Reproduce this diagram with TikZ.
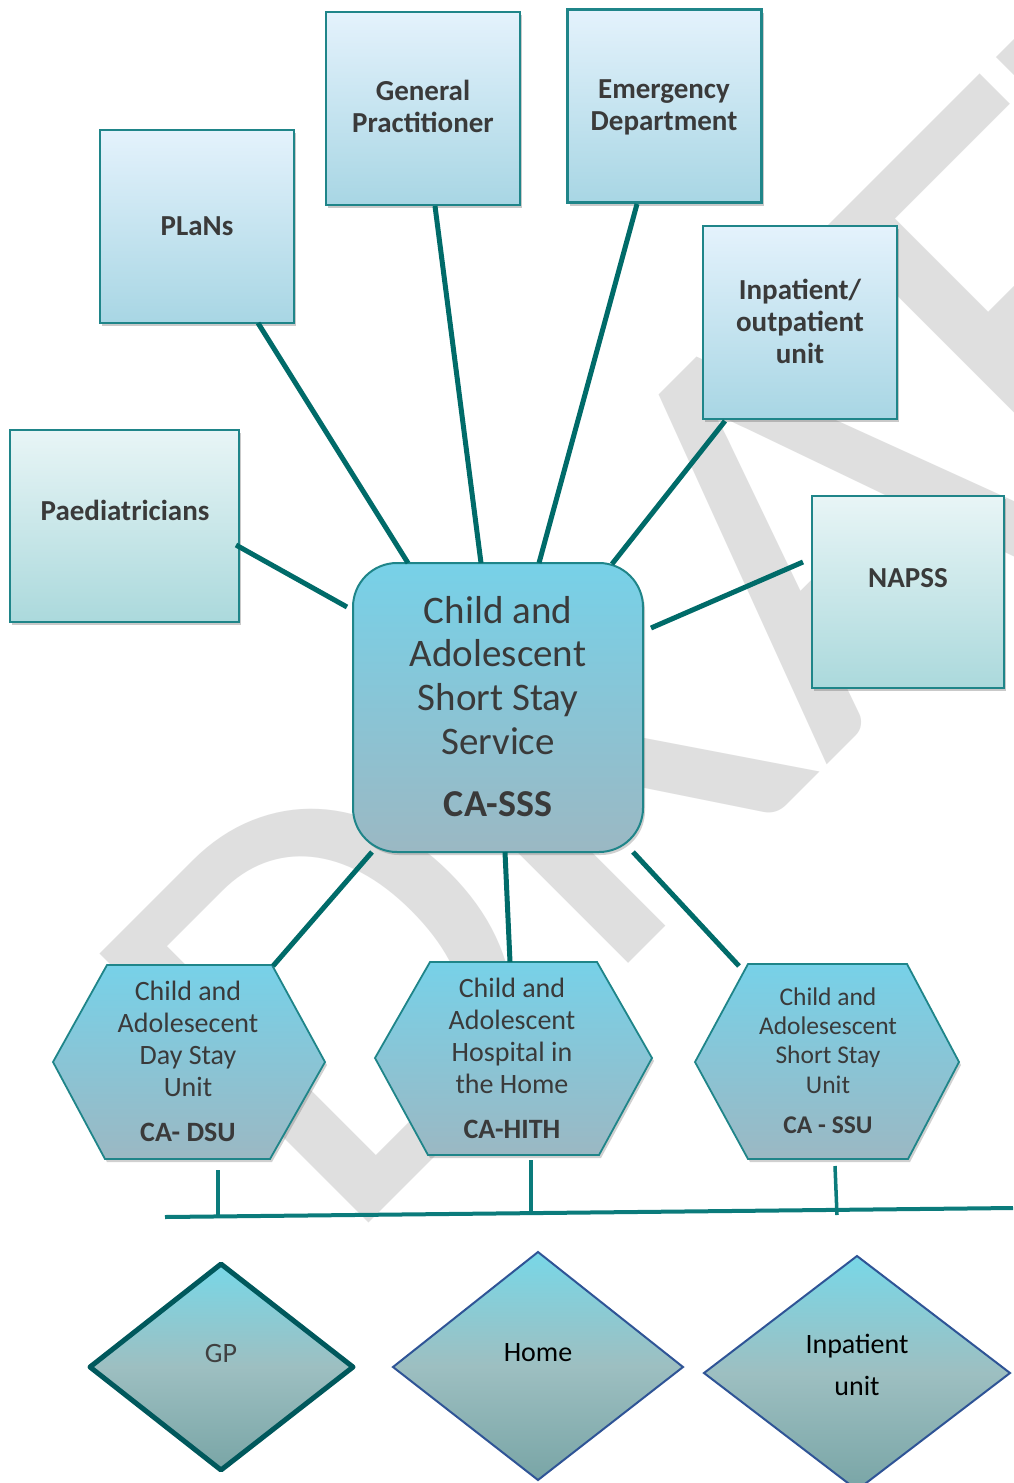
\documentclass[tikz,border=0pt]{standalone}
\usepackage{fontspec}
\setmainfont{Carlito}
\usetikzlibrary{shadows}
\definecolor{txt}{HTML}{3A3A3A}
\definecolor{edge}{HTML}{006B69}
\definecolor{busc}{HTML}{0B7B7B}
\definecolor{boxline}{HTML}{1F8589}
\definecolor{btop}{HTML}{E4F2FC}
\definecolor{bbot}{HTML}{A8D6E4}
\definecolor{gtop}{HTML}{E8F5F6}
\definecolor{gbot}{HTML}{ABD9DC}
\definecolor{ctop}{HTML}{77D1E8}
\definecolor{cbot}{HTML}{9BB8C3}
\definecolor{dtop}{HTML}{78D7E7}
\definecolor{dmid}{HTML}{9DBFC1}
\definecolor{dbot}{HTML}{79A5A6}
\definecolor{wm}{HTML}{DFDFDF}
\definecolor{gpline}{HTML}{00585C}
\definecolor{blueline}{HTML}{2F5496}
\newcommand\stk[1]{\vtop{\halign{\hfil##\hfil\cr#1\crcr}}}
\begin{document}
\begin{tikzpicture}[x=1pt,y=-1pt,
  sq/.style={draw=boxline, line width=2.2pt, minimum width=194pt, minimum height=193pt, inner sep=0pt,
    drop shadow={shadow xshift=2pt, shadow yshift=-3pt, opacity=0.35, fill=black!60}},
  bluesq/.style={sq, top color=btop, bottom color=bbot},
  greensq/.style={sq, top color=gtop, bottom color=gbot},
  lbl/.style={anchor=base, inner sep=0pt, text=txt, font=\fontsize{29}{32}\selectfont\bfseries},
  hexlbl/.style={anchor=base, inner sep=0pt, text=txt, font=\fontsize{28}{32.3}\selectfont},
  hexcode/.style={anchor=base, inner sep=0pt, text=txt, font=\fontsize{28}{32}\selectfont\bfseries},
  hexshape/.style={draw=boxline, line width=1.8pt, top color=ctop, bottom color=cbot,
    drop shadow={shadow xshift=2pt, shadow yshift=-3pt, opacity=0.3, fill=black!60}},
  dia/.style={top color=dtop, bottom color=dbot, middle color=dmid},
  link/.style={draw=edge, line width=5pt},
  busline/.style={draw=busc, line width=4pt},
  wmark/.style={text=wm, inner sep=0pt, font=\fontsize{593}{593}\selectfont}
]
\useasboundingbox (0,0) rectangle (1013,1483);
\fill[white] (0,0) rectangle (1013,1483);

% watermark
\node[wmark, rotate=45, anchor=base west] (draft) at (340,1252) {DRAFT};

% top boxes
\node[bluesq] (plans) at (197,226.5) {};
\node[bluesq] (gp) at (423,108.5) {};
\node[bluesq] (ed) at (664.5,106) {};
\node[bluesq] (inout) at (800,322.5) {};
\node[greensq, minimum width=229pt, minimum height=192pt] (paed) at (124.5,526) {};
\node[greensq, minimum width=192pt, minimum height=192pt] (napss) at (908,592) {};

\node[lbl] (plansT) at (197,235) {PLaNs};
\node[lbl] (gpT) at (423,100) {\stk{General\cr Practitioner}};
\node[lbl] (edT) at (664,98) {\stk{Emergency\cr Department}};
\node[lbl] (inoutT) at (800,299) {\stk{Inpatient/\cr outpatient\cr unit}};
\node[lbl] (paedT) at (125,520) {Paediatricians};
\node[lbl] (napssT) at (908,587) {NAPSS};

% centre box
\node[draw=boxline, line width=2pt, rounded corners=44pt, minimum width=290pt, minimum height=289pt,
  top color=ctop, bottom color=cbot, inner sep=0pt,
  drop shadow={shadow xshift=2pt, shadow yshift=-3pt, opacity=0.3, fill=black!60}] (sss) at (498,707.5) {};
\node[anchor=base, inner sep=0pt, text=txt, font=\fontsize{39}{43.8}\selectfont] (sssT) at (498,623)
  {\stk{Child and\cr Adolescent\cr Short Stay\cr Service}};
\node[anchor=base, inner sep=0pt, text=txt, font=\fontsize{38}{44}\selectfont\bfseries] (sssC) at (498,816) {CA-SSS};

% hexagons
\path[hexshape] (107,965) -- (272,965) -- (325,1062) -- (270,1159) -- (105,1159) -- (53,1062) -- cycle;
\path[hexshape] (430,962) -- (597,962) -- (652,1058) -- (599,1155) -- (428,1155) -- (375,1058) -- cycle;
\path[hexshape] (748,964) -- (907,964) -- (959,1062) -- (908,1159) -- (748,1159) -- (695,1062) -- cycle;

\node[hexlbl] (dsuT) at (188,1000) {\stk{Child and\cr Adolesecent\cr Day Stay\cr Unit}};
\node[hexcode] (dsuC) at (188,1141) {CA- DSU};
\node[hexlbl] (hithT) at (512,997) {\stk{Child and\cr Adolescent\cr Hospital in\cr the Home}};
\node[hexcode] (hithC) at (512,1138) {CA-HITH};
\node[hexlbl, font=\fontsize{25.5}{29.4}\selectfont] (ssuT) at (828,1005) {\stk{Child and\cr Adolesescent\cr Short Stay\cr Unit}};
\node[hexcode, font=\fontsize{25.5}{29}\selectfont\bfseries] (ssuC) at (828,1133) {CA - SSU};

% diamonds
\path[dia, draw=gpline, line width=5pt, line join=round] (221,1264) -- (353,1367) -- (221,1470) -- (90,1367) -- cycle;
\path[dia, draw=blueline, line width=2pt] (538,1252) -- (683,1367) -- (538,1480) -- (393,1367) -- cycle;
\path[dia, draw=blueline, line width=2pt] (857,1256) -- (1010,1373) -- (857,1490) -- (704,1373) -- cycle;
\node[anchor=base, inner sep=0pt, text=black!75, font=\fontsize{28}{32}\selectfont] (gpD) at (221,1362) {GP};
\node[anchor=base, inner sep=0pt, text=black, font=\fontsize{28}{32}\selectfont] (homeD) at (538,1361) {Home};
\node[anchor=base, inner sep=0pt, text=black, font=\fontsize{28}{42}\selectfont] (inpD) at (857,1353) {\stk{Inpatient\cr unit}};

% connector end points
\coordinate (c1) at (258,323);   \coordinate (s1) at (408,563);
\coordinate (c2) at (435,206);   \coordinate (s2) at (481,563);
\coordinate (c3) at (637,204);   \coordinate (s3) at (539,563);
\coordinate (c4) at (725,421);   \coordinate (s4) at (612,564);
\coordinate (c5) at (236,545);   \coordinate (s5) at (347,607);
\coordinate (c6) at (803,562);   \coordinate (s6) at (651,628);
\coordinate (s7) at (372,852);   \coordinate (h1) at (273,966);
\coordinate (s8) at (505,852);   \coordinate (h2) at (510,962);
\coordinate (s9) at (633,852);   \coordinate (h3) at (739,966);

\draw[link] (c1) -- (s1);
\draw[link] (c2) -- (s2);
\draw[link] (c3) -- (s3);
\draw[link] (c4) -- (s4);
\draw[link] (c5) -- (s5);
\draw[link] (c6) -- (s6);
\draw[link] (s7) -- (h1);
\draw[link] (s8) -- (h2);
\draw[link] (s9) -- (h3);

% bus
\coordinate (busL) at (165,1217);
\coordinate (busR) at (1013,1208);
\coordinate (d1) at (218,1170);  \coordinate (b1) at (218,1217);
\coordinate (d2) at (531,1160);  \coordinate (b2) at (531,1213);
\coordinate (d3) at (835,1166);  \coordinate (b3) at (837,1215);
\draw[busline] (busL) -- (busR);
\draw[busline, line width=3.5pt] (d1) -- (b1);
\draw[busline, line width=3.5pt] (d2) -- (b2);
\draw[busline, line width=3.5pt] (d3) -- (b3);
\end{tikzpicture}
\end{document}
